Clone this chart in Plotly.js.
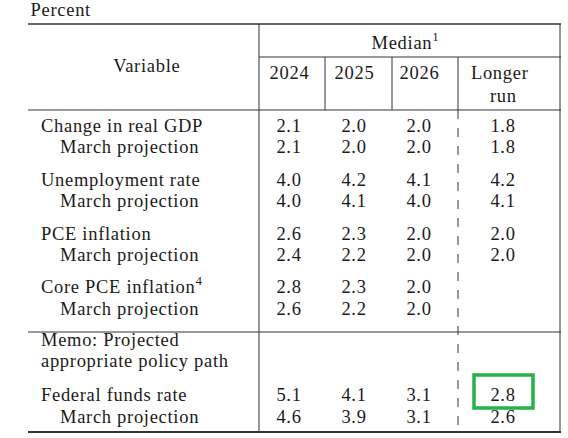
<!DOCTYPE html>
<html><head><meta charset="utf-8">
<script src="https://cdn.plot.ly/plotly-3.0.1.min.js"></script>
<style>html,body{margin:0;padding:0;background:#fff}#c{width:568px;height:438px}
#c text{letter-spacing:0.7px}</style>
</head><body><div id="c"></div>
<script>
// ---- data ----
const rowLabels = ["Change in real GDP","March projection","Unemployment rate","March projection",
  "PCE inflation","March projection","Core PCE inflation<sup>4</sup>","March projection",
  "Memo: Projected","appropriate policy path","Federal funds rate","March projection"];
const rowIsSub = [false,true,false,true,false,true,false,true,false,false,false,true];
const columns = ["2024","2025","2026","Longer<br>run"];
const v2024 = ["2.1","2.1","4.0","4.0","2.6","2.4","2.8","2.6","","","5.1","4.6"];
const v2025 = ["2.0","2.0","4.2","4.1","2.3","2.2","2.3","2.2","","","4.1","3.9"];
const v2026 = ["2.0","2.0","4.1","4.0","2.0","2.0","2.0","2.0","","","3.1","3.1"];
const vLonger = ["1.8","1.8","4.2","4.1","2.0","2.0","","","","","2.8","2.6"];
const highlightRow = 10, highlightCol = 3;

// ---- layout geometry (pixel space axes) ----
const rowY = [127,148,181,202,235,256,288,310,341,362,396,418];
const colX = [289,354,419,503];
const F = "Liberation Serif, Times New Roman, serif";
const FS = 18.5;
const TC = "#1a1a1a";
const LC = "#333";

const valueCols = [v2024,v2025,v2026,vLonger];
const traces = [];
traces.push({
  type:'scatter', mode:'text', x: rowLabels.map((l,i)=> rowIsSub[i]?60:41), y: rowY,
  text: rowLabels, textposition:'middle right', hoverinfo:'skip',
  textfont:{family:F,size:FS,color:TC}, showlegend:false
});
valueCols.forEach((vals,c)=>{
  const idx = vals.map((v,i)=>i).filter(i=>vals[i]!=="");
  traces.push({
    type:'scatter', mode:'text', x: idx.map(()=>colX[c]), y: idx.map(i=>rowY[i]), text: idx.map(i=>vals[i]),
    textposition:'middle center', hoverinfo:'skip',
    textfont:{family:F,size:FS,color:TC}, showlegend:false
  });
});

const ann = [];
const A = (x,y,t,anchor)=>ann.push({x,y,text:t,showarrow:false,xanchor:anchor||'center',yanchor:'middle',
  font:{family:F,size:FS,color:TC},xref:'x',yref:'y'});
A(31,10,"Percent",'left');
A(147,66,"Variable");
A(405,41,"Median<sup>1</sup>");
columns.forEach((c,i)=>{ if(i<3) A(colX[i],73,c); });
A(499,73,"Longer"); A(503,96,"run");

const shapes = [];
const L = (x0,y0,x1,y1,w,dash)=>shapes.push({type:'line',xref:'x',yref:'y',x0,y0,x1,y1,
  line:{color:LC,width:w||1,dash:dash||'solid'}});
L(28,24,561,24,1.6);
L(259,57,561,57,1);
L(28,110,561,110,1);
L(28,332,561,332,1);
L(28,432,561,432,2);
L(259,24,259,432,1);
L(560,24,560,432,1);
L(325,57,325,110,1);
L(392,57,392,110,1);
L(458,57,458,110,1);
L(458,110,458,432,1,'dash');
// highlight box around the longer-run federal funds rate
shapes.push({type:'rect',xref:'x',yref:'y',x0:colX[highlightCol]-29,x1:colX[highlightCol]+30,
  y0:rowY[highlightRow]-21,y1:rowY[highlightRow]+12,line:{color:'#26b24a',width:3.5}});

Plotly.newPlot('c',traces,{
  width:568,height:438,margin:{l:0,r:0,t:0,b:0},paper_bgcolor:'#fff',plot_bgcolor:'#fff',
  xaxis:{range:[0,568],visible:false,fixedrange:true},
  yaxis:{range:[438,0],visible:false,fixedrange:true},
  annotations:ann,shapes:shapes,showlegend:false
},{staticPlot:true});
</script></body></html>
